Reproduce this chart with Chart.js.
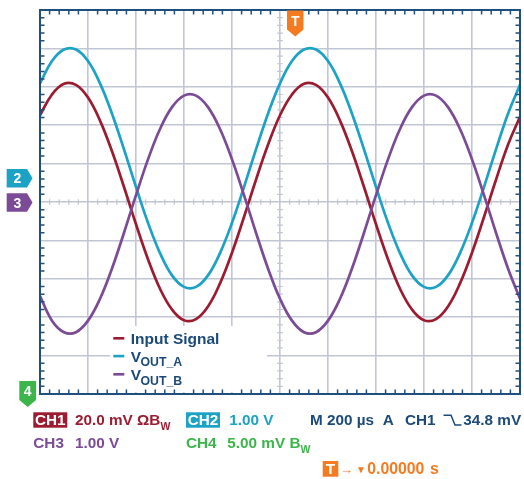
<!DOCTYPE html>
<html><head><meta charset="utf-8">
<script src="https://cdn.jsdelivr.net/npm/chart.js@4.4.1/dist/chart.umd.min.js"></script>
<style>html,body{margin:0;padding:0;background:#fff;overflow:hidden}#c{display:block}</style>
</head><body>
<canvas id="c" width="524" height="479"></canvas>
<script>
// ---- data (horizontal position in divisions, 200 µs/div; vertical in divisions) ----
const timeDiv = [0,0.25,0.5,0.75,1,1.25,1.5,1.75,2,2.25,2.5,2.75,3,3.25,3.5,3.75,4,4.25,4.5,4.75,5,5.25,5.5,5.75,6,6.25,6.5,6.75,7,7.25,7.5,7.75,8,8.25,8.5,8.75,9,9.25,9.5,9.75,10];
const inputSignal = [2.26,2.80,3.08,3.05,2.72,2.12,1.32,0.39,-0.58,-1.49,-2.26,-2.80,-3.08,-3.05,-2.72,-2.12,-1.32,-0.39,0.58,1.49,2.26,2.80,3.08,3.05,2.72,2.12,1.32,0.39,-0.58,-1.49,-2.26,-2.80,-3.08,-3.05,-2.72,-2.12,-1.32,-0.39,0.58,1.49,2.22];
const voutA = [3.09,3.67,3.97,3.97,3.67,3.09,2.30,1.37,0.39,-0.54,-1.33,-1.91,-2.21,-2.21,-1.91,-1.33,-0.54,0.39,1.37,2.30,3.09,3.67,3.97,3.97,3.67,3.09,2.30,1.37,0.39,-0.54,-1.33,-1.91,-2.21,-2.21,-1.91,-1.33,-0.54,0.39,1.37,2.30,3.05];
const voutB = [-2.45,-3.09,-3.39,-3.39,-3.09,-2.52,-1.73,-0.80,0.18,1.11,1.90,2.47,2.77,2.77,2.47,1.90,1.11,0.18,-0.80,-1.73,-2.52,-3.09,-3.39,-3.39,-3.09,-2.52,-1.73,-0.80,0.18,1.11,1.90,2.47,2.77,2.77,2.47,1.90,1.11,0.18,-0.80,-1.73,-2.52];
const seriesNames = ['Input Signal','VOUT_A','VOUT_B'];
const xRange = [0, 10];
const yRange = [-5, 5];

// ---- styles ----
const RED='#9b1c31', CYAN='#1ba2c4', PURPLE='#7c4b95', GREEN='#3cb54a', ORANGE='#f47b20', NAVY='#1b4a78', GRID='#c2c5d3';
const FONT = '"Liberation Sans", Arial, sans-serif';

function pts(ys){ return timeDiv.map((x,i)=>({x:x, y:ys[i]})); }

function txt(ctx,s,x,y,color,size,align){
  ctx.font='bold '+size+'px '+FONT; ctx.fillStyle=color; ctx.textAlign=align||'left'; ctx.textBaseline='alphabetic';
  ctx.fillText(s,x,y); return ctx.measureText(s).width;
}

const scopePlugin = {
  id:'scope',
  beforeDatasetsDraw(chart){
    const ctx=chart.ctx, xs=chart.scales.x, ys=chart.scales.y;
    const cy=ys.getPixelForValue(0), cx=xs.getPixelForValue(5);
    ctx.save(); ctx.strokeStyle=GRID; ctx.lineWidth=1.2; ctx.beginPath();
    for(let i=1;i<50;i++){ if(i%5===0) continue; const px=xs.getPixelForValue(i*0.2); ctx.moveTo(px,cy-2.8); ctx.lineTo(px,cy+2.8);}
    for(let j=-24;j<25;j++){ if(j%5===0) continue; const py=ys.getPixelForValue(j*0.2); ctx.moveTo(cx-2.8,py); ctx.lineTo(cx+2.8,py);}
    ctx.stroke(); ctx.restore();
  },
  afterDatasetsDraw(chart){
    const ctx=chart.ctx, a=chart.chartArea, xs=chart.scales.x, ys=chart.scales.y;
    ctx.save();
    // legend box
    ctx.fillStyle='#fff'; ctx.fillRect(110,326,157,66);
    const lx=130.7;
    ctx.fillStyle=RED; ctx.fillRect(113.3,337,11,2.6);
    txt(ctx,seriesNames[0],lx,344,NAVY,15.5);
    ctx.fillStyle=CYAN; ctx.fillRect(113.3,354.8,11,2.6);
    let w=txt(ctx,'V',lx,361.7,NAVY,15.5); txt(ctx,'OUT_A',lx+w-0.5,366.3,NAVY,12.3);
    ctx.fillStyle=PURPLE; ctx.fillRect(113.3,373,11,2.6);
    w=txt(ctx,'V',lx,380,NAVY,15.5); txt(ctx,'OUT_B',lx+w-0.5,384.6,NAVY,12.3);

    // frame
    ctx.strokeStyle='#1f4f7c'; ctx.lineWidth=2; ctx.strokeRect(a.left,a.top,a.right-a.left,a.bottom-a.top);
    ctx.lineWidth=1.5; ctx.beginPath();
    for(let i=1;i<50;i++){ if(i%5===0) continue; const px=xs.getPixelForValue(i*0.2);
      ctx.moveTo(px,a.top); ctx.lineTo(px,a.top+4.5); ctx.moveTo(px,a.bottom); ctx.lineTo(px,a.bottom-4.5);}
    for(let j=-24;j<25;j++){ if(j%5===0) continue; const py=ys.getPixelForValue(j*0.2);
      ctx.moveTo(a.left,py); ctx.lineTo(a.left+4.5,py); ctx.moveTo(a.right,py); ctx.lineTo(a.right-4.5,py);}
    ctx.stroke();

    // channel markers
    function arrowRight(y0,h,color,label){
      ctx.fillStyle=color; ctx.beginPath(); ctx.moveTo(6.7,y0); ctx.lineTo(27,y0); ctx.lineTo(32.5,y0+h/2); ctx.lineTo(27,y0+h); ctx.lineTo(6.7,y0+h); ctx.closePath(); ctx.fill();
      txt(ctx,label,17.5,y0+h/2+5,'#fff',14,'center');
    }
    arrowRight(169,18.5,CYAN,'2');
    arrowRight(193.3,18.5,PURPLE,'3');
    function arrowDown(x0,y0,wd,color,label){
      ctx.fillStyle=color; ctx.beginPath(); ctx.moveTo(x0,y0); ctx.lineTo(x0+wd,y0); ctx.lineTo(x0+wd,y0+19); ctx.lineTo(x0+wd/2,y0+26); ctx.lineTo(x0,y0+19); ctx.closePath(); ctx.fill();
      txt(ctx,label,x0+wd/2,y0+15,'#fff',14,'center');
    }
    arrowDown(19.3,381,16.8,GREEN,'4');
    arrowDown(287,10.5,16.5,ORANGE,'T');

    // status text
    const S=15.3;
    ctx.fillStyle=RED; ctx.fillRect(33.3,412.3,34,15.4); txt(ctx,'CH1',50.3,425.3,'#fff',S,'center');
    w=txt(ctx,'20.0 mV \u03A9B',75,425.3,RED,S); txt(ctx,'W',75+w,430,RED,10.5);
    ctx.fillStyle=CYAN; ctx.fillRect(186,412.3,34,15.4); txt(ctx,'CH2',203,425.3,'#fff',S,'center');
    txt(ctx,'1.00 V',229.3,425.3,CYAN,S);
    txt(ctx,'M 200 \u00B5s',310,425.3,NAVY,S);
    txt(ctx,'A',382.7,425.3,NAVY,S);
    txt(ctx,'CH1',405,425.3,NAVY,S);
    ctx.strokeStyle=NAVY; ctx.lineWidth=1.5; ctx.beginPath(); ctx.moveTo(443.5,415.2); ctx.lineTo(451,415.2); ctx.lineTo(455,425); ctx.lineTo(461.5,425); ctx.stroke();
    txt(ctx,'34.8 mV',463.3,425.3,NAVY,S);

    txt(ctx,'CH3',33.3,448.3,PURPLE,S);
    txt(ctx,'1.00 V',75,448.3,PURPLE,S);
    txt(ctx,'CH4',186,448.3,GREEN,S);
    w=txt(ctx,'5.00 mV B',227.3,448.3,GREEN,S); txt(ctx,'W',227.3+w,453,GREEN,10.5);

    ctx.fillStyle=ORANGE; ctx.fillRect(322.7,461,15.6,15.7); txt(ctx,'T',330.5,474,'#fff',S,'center');
    txt(ctx,'\u2192',340,473.5,ORANGE,13);
    txt(ctx,'\u25BC',356,472.5,ORANGE,10);
    txt(ctx,'0.00000',367.3,473.8,ORANGE,15.8);
    txt(ctx,'s',430,473.8,ORANGE,15.8);
    ctx.restore();
  }
};

new Chart(document.getElementById('c').getContext('2d'), {
  type:'line',
  data:{datasets:[
    {label:seriesNames[0], data:pts(inputSignal), borderColor:RED, borderWidth:2.7, pointRadius:0, tension:0.4, fill:false, order:3},
    {label:seriesNames[1], data:pts(voutA), borderColor:CYAN, borderWidth:2.7, pointRadius:0, tension:0.4, fill:false, order:2},
    {label:seriesNames[2], data:pts(voutB), borderColor:PURPLE, borderWidth:2.7, pointRadius:0, tension:0.4, fill:false, order:1}
  ]},
  options:{
    responsive:false, animation:false, devicePixelRatio:1, events:[],
    layout:{padding:{left:40,right:4,top:10,bottom:85}},
    plugins:{legend:{display:false}, tooltip:{enabled:false}},
    scales:{
      x:{type:'linear', min:xRange[0], max:xRange[1], ticks:{display:false, stepSize:1}, grid:{color:GRID, lineWidth:1.6, drawTicks:false}, border:{display:false}},
      y:{type:'linear', min:yRange[0], max:yRange[1], ticks:{display:false, stepSize:1}, grid:{color:GRID, lineWidth:1.6, drawTicks:false}, border:{display:false}}
    }
  },
  plugins:[scopePlugin]
});
</script>
</body></html>
